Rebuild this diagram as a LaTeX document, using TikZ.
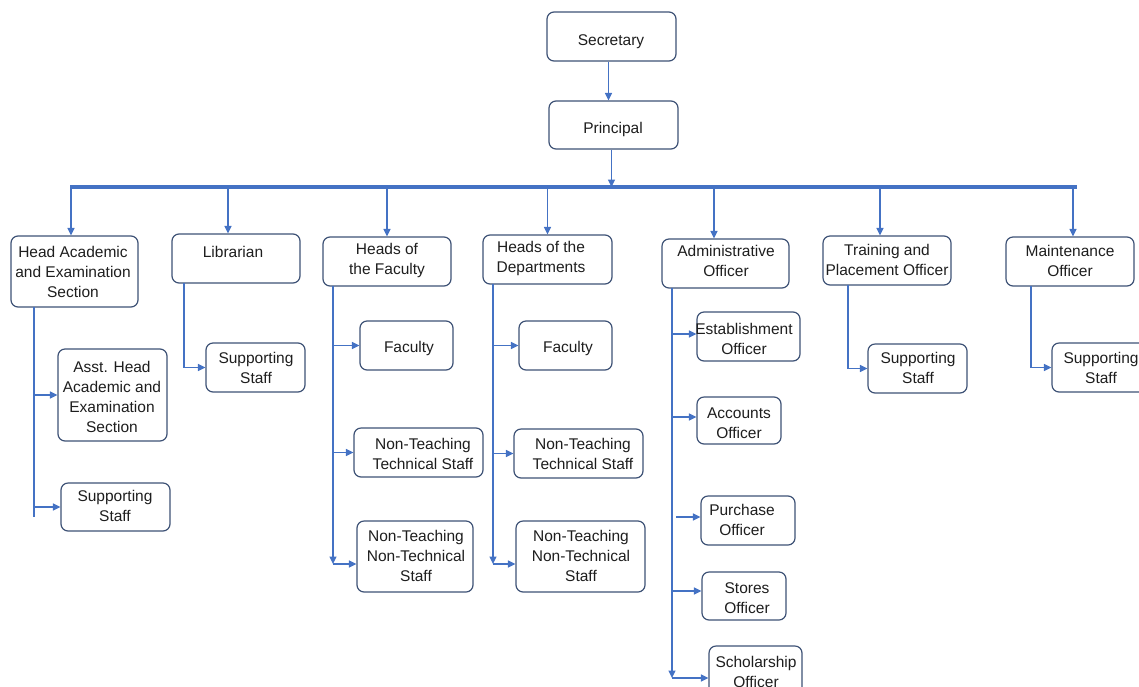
\documentclass[tikz,border=0pt]{standalone}
\usepackage{fontspec}
\setmainfont{Liberation Sans}
\usetikzlibrary{arrows.meta}
\definecolor{lnc}{RGB}{68,114,196}
\definecolor{boxc}{RGB}{62,82,118}
\definecolor{txc}{RGB}{30,30,30}
\tikzset{
  box/.style={draw=boxc, line width=1.2pt, rounded corners=7pt, inner sep=0pt, fill=white},
  txt/.style={align=center, inner sep=0pt, text=txc, font=\fontsize{15.5}{20}\selectfont},
  ln/.style={draw=lnc, line width=1.3pt},
  arr/.style={ln, -{Triangle[length=7.5pt,width=7pt]}},
  bar/.style={draw=lnc, line width=3.6pt}
}
\newcommand\orgbox[8]{%
  \node[box, minimum width=#4pt, minimum height=#5pt] (#1) at (#2,#3) {};
  \node[txt] (#1-t) at (#6,#7) {#8};}
\begin{document}
\begin{tikzpicture}[x=1pt,y=-1pt]
\useasboundingbox (0,0) rectangle (1139,686);
% top
\orgbox{sec}{611.5}{36.5}{129}{49}{611}{42}{Secretary}
\orgbox{prin}{613.5}{125}{129}{48}{613}{129}{Principal}
% level 1
\orgbox{ha}{74.5}{271.5}{127}{71}{73}{272}{Head Academic\\and Examination\\Section}
\orgbox{lib}{236}{258.5}{128}{49}{233}{252}{Librarian}
\orgbox{hof}{387}{261.5}{128}{49}{387}{260}{Heads of\\the Faculty}
\orgbox{hod}{547.5}{259.5}{129}{49}{541}{258}{Heads of the\\Departments}
\orgbox{adm}{725.5}{263.5}{127}{49}{726}{261}{Administrative\\Officer}
\orgbox{tp}{887}{260.5}{128}{49}{887}{260}{Training and\\Placement Officer}
\orgbox{mo}{1070}{261.5}{128}{49}{1070}{261}{Maintenance\\Officer}
% level 2
\orgbox{asst}{112.5}{395}{109}{92}{112}{397}{Asst. Head\\Academic and\\Examination\\Section}
\orgbox{hasup}{115.5}{507}{109}{48}{115}{506}{Supporting\\Staff}
\orgbox{libsup}{255.5}{367.5}{99}{49}{256}{368}{Supporting\\Staff}
\orgbox{fac1}{406.5}{345.5}{93}{49}{409}{348}{Faculty}
\orgbox{ntt1}{418.5}{452.5}{129}{49}{423}{454}{Non-Teaching\\Technical Staff}
\orgbox{ntnt1}{415}{556.5}{116}{71}{416}{556}{Non-Teaching\\Non-Technical\\Staff}
\orgbox{fac2}{565.5}{345.5}{93}{49}{568}{348}{Faculty}
\orgbox{ntt2}{578.5}{453.5}{129}{49}{583}{454}{Non-Teaching\\Technical Staff}
\orgbox{ntnt2}{580.5}{556.5}{129}{71}{581}{556}{Non-Teaching\\Non-Technical\\Staff}
\orgbox{est}{748.5}{336.5}{103}{49}{744}{339}{Establishment\\Officer}
\orgbox{acc}{739}{420.5}{84}{47}{739}{423}{Accounts\\Officer}
\orgbox{pur}{748}{520.5}{94}{49}{742}{520}{Purchase\\Officer}
\orgbox{sto}{744}{596}{84}{48}{747}{598}{Stores\\Officer}
\orgbox{sch}{755.5}{674}{93}{56}{756}{672}{Scholarship\\Officer}
\orgbox{tpsup}{917.5}{368.5}{99}{49}{918}{368}{Supporting\\Staff}
\orgbox{mosup}{1101}{367.5}{98}{49}{1101}{368}{Supporting\\Staff}
% top connectors
\coordinate (barL) at (70,187);
\coordinate (barR) at (1077,187);
\draw[arr] ([xshift=-3pt]sec.south) -- ([xshift=-3pt]sec.south |- prin.north);
\draw[arr] ([xshift=-2pt]prin.south) -- ([xshift=-2pt]prin.south |- barL);
\draw[bar] (barL) -- (barR);
\draw[arr] ([xshift=-3.5pt]ha.north |- barL) -- ([xshift=-3.5pt]ha.north);
\draw[arr] ([xshift=-8pt]lib.north |- barL) -- ([xshift=-8pt]lib.north);
\draw[arr] (hof.north |- barL) -- (hof.north);
\draw[arr] (hod.north |- barL) -- (hod.north);
\draw[arr] ([xshift=-11.5pt]adm.north |- barL) -- ([xshift=-11.5pt]adm.north);
\draw[arr] ([xshift=-7pt]tp.north |- barL) -- ([xshift=-7pt]tp.north);
\draw[arr] ([xshift=3pt]mo.north |- barL) -- ([xshift=3pt]mo.north);
% Head Academic branch
\coordinate (haT) at (34,307);
\draw[ln] (haT) -- (34,517);
\draw[arr] (haT |- asst.west) -- (asst.west);
\draw[arr] (haT |- hasup.west) -- (hasup.west);
% Librarian branch
\coordinate (libT) at (184,283);
\draw[arr] (libT) |- (libsup.west);
% Heads of the Faculty branch
\coordinate (hofT) at (333,286);
\coordinate (hofB) at (333,564);
\draw[arr] (hofT) -- (hofB);
\draw[arr] (hofT |- fac1.west) -- (fac1.west);
\draw[arr] (hofT |- ntt1.west) -- (ntt1.west);
\draw[arr] (hofB) -- (hofB -| ntnt1.west);
% Heads of the Departments branch
\coordinate (hodT) at (493,284);
\coordinate (hodB) at (493,564);
\draw[arr] (hodT) -- (hodB);
\draw[arr] (hodT |- fac2.west) -- (fac2.west);
\draw[arr] (hodT |- ntt2.west) -- (ntt2.west);
\draw[arr] (hodB) -- (hodB -| ntnt2.west);
% Administrative branch
\coordinate (admT) at (672,288);
\coordinate (admB) at (672,678);
\draw[arr] (admT) -- (admB);
\draw[arr] ([yshift=2.5pt]admT |- est.west) -- ([yshift=2.5pt]est.west);
\draw[arr] ([yshift=3.5pt]admT |- acc.west) -- ([yshift=3.5pt]acc.west);
\draw[arr] ([xshift=4pt,yshift=3.5pt]admT |- pur.west) -- ([yshift=3.5pt]pur.west);
\draw[arr] ([yshift=5pt]admT |- sto.west) -- ([yshift=5pt]sto.west);
\draw[arr] (admB) -- (admB -| sch.west);
% Training and Placement branch
\coordinate (tpT) at (848,285);
\draw[arr] (tpT) |- (tpsup.west);
% Maintenance branch
\coordinate (moT) at (1031,286);
\draw[arr] (moT) |- (mosup.west);
\end{tikzpicture}
\end{document}
